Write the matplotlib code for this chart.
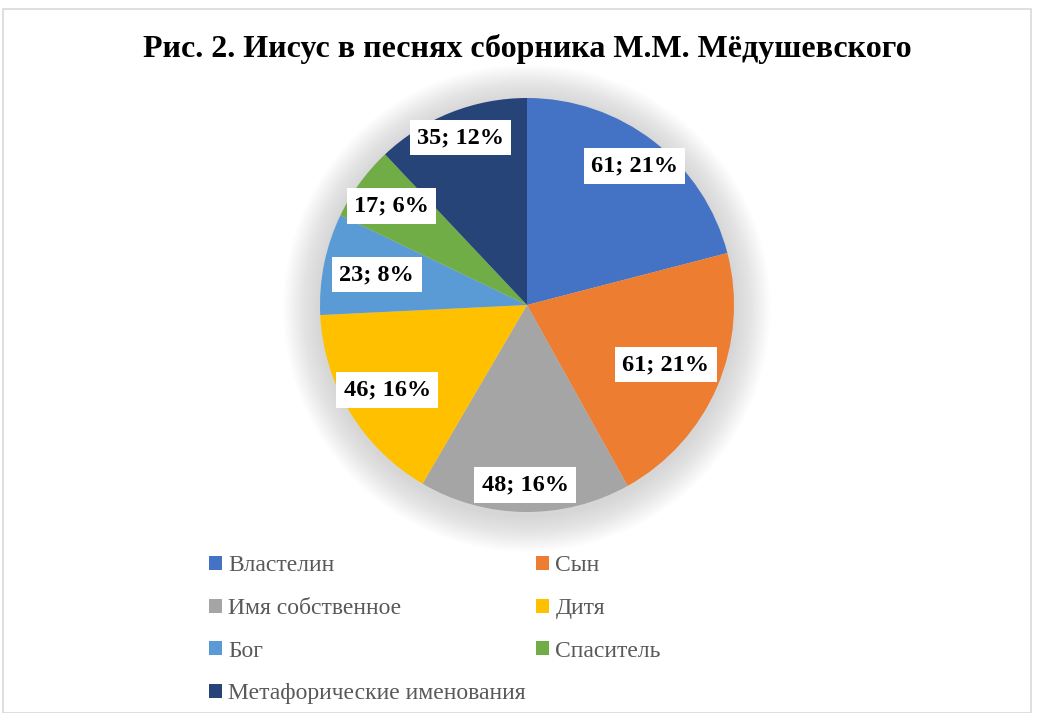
import numpy as np
import matplotlib
matplotlib.use("Agg")
import matplotlib.pyplot as plt
from matplotlib.patches import Patch, Circle, Rectangle

# Данные диаграммы
categories = ["Властелин", "Сын", "Имя собственное", "Дитя", "Бог", "Спаситель",
              "Метафорические именования"]
values = [61, 61, 48, 46, 23, 17, 35]
percents = ["21%", "21%", "16%", "16%", "8%", "6%", "12%"]
colors = ["#4472C4", "#ED7D31", "#A5A5A5", "#FFC000", "#5B9BD5", "#70AD47", "#264478"]

# радиальное положение подписей (доля радиуса)
label_r = [0.85, 0.73, 0.87, 0.79, 0.74, 0.81, 0.87]

W, H = 1038, 713
fig = plt.figure(figsize=(W / 100, H / 100), dpi=100)
fig.patch.set_facecolor("white")

# рамка
fig.add_artist(Rectangle((3 / W, 0), (1031 - 3) / W, (H - 9) / H,
                         transform=fig.transFigure, fill=False,
                         edgecolor="#D9D9D9", linewidth=1.2))

fig.text(527 / W, 1 - 49 / H, "Рис. 2. Иисус в песнях сборника М.М. Мёдушевского",
         ha="center", va="center", fontsize=23, fontweight="bold",
         family="Liberation Serif")

cx, cy, R = 527, 305, 207
ax = fig.add_axes([(cx - R) / W, (H - cy - R) / H, 2 * R / W, 2 * R / H])

# мягкая тень вокруг круга
for k in range(16, 0, -1):
    ax.add_patch(Circle((0, -0.015), 1 + k * 0.011, color="#808080",
                        alpha=0.02, lw=0, clip_on=False, zorder=0))

wedges, _ = ax.pie(values, colors=colors, startangle=90, counterclock=False,
                   radius=1, wedgeprops=dict(linewidth=0))
for w in wedges:
    w.set_zorder(2)
ax.set_xlim(-1, 1)
ax.set_ylim(-1, 1)
ax.axis("off")

for w, v, p, r in zip(wedges, values, percents, label_r):
    ang = np.deg2rad((w.theta1 + w.theta2) / 2)
    ax.text(r * np.cos(ang), r * np.sin(ang), f"{v}; {p}", ha="center", va="center",
            fontsize=17.5, fontweight="bold", family="Liberation Serif", zorder=5,
            bbox=dict(boxstyle="square,pad=0.3", facecolor="white", edgecolor="none"))

# легенда: порядок по строкам, как в оригинале
order = [0, 2, 4, 6, 1, 3, 5]
handles = [Patch(facecolor=colors[i], edgecolor="none") for i in order]
labels = [categories[i] for i in order]
leg = fig.legend(handles, labels, loc="upper left", bbox_to_anchor=(188 / W, 1 - 534 / H),
                 ncol=2, frameon=False, prop={"family": "Liberation Serif", "size": 17},
                 handlelength=0.55, handleheight=0.55, handletextpad=0.25,
                 labelspacing=0.92, columnspacing=0.45)
for t in leg.get_texts():
    t.set_color("#595959")

fig.savefig("out.png", dpi=100)
